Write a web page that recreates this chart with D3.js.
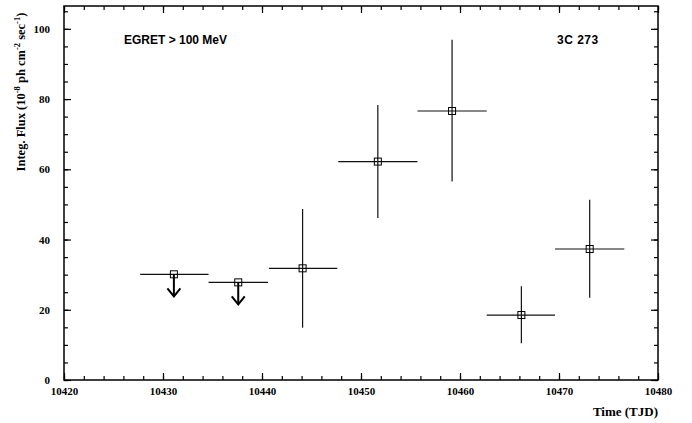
<!DOCTYPE html>
<html>
<head>
<meta charset="utf-8">
<script src="https://cdn.jsdelivr.net/npm/d3@7"></script>
<style>
  body { margin: 0; background: #fff; }
  svg { display: block; }
  .tick text { font-family: 'Liberation Serif', 'Times New Roman', serif; font-weight: bold; font-size: 11px; fill: #000; }
  .tick line { stroke: #000; }
</style>
</head>
<body>
<div id="chart"></div>
<script>
// light curve of 3C 273, EGRET > 100 MeV
const times = [10431.1, 10437.6, 10444.1, 10451.7, 10459.2, 10466.2, 10473.1];
const timeLo = [10427.7, 10434.6, 10440.7, 10447.7, 10455.7, 10462.7, 10469.6];
const timeHi = [10434.6, 10440.6, 10447.6, 10455.7, 10462.7, 10469.6, 10476.6];
const flux = [30.1, 27.8, 31.8, 62.2, 76.6, 18.5, 37.3];
const fluxLo = [null, null, 14.9, 46.1, 56.5, 10.5, 23.4];
const fluxHi = [null, null, 48.7, 78.3, 96.9, 26.7, 51.3];
const upperLimit = [true, true, false, false, false, false, false];

const xMajorTicks = [10420, 10430, 10440, 10450, 10460, 10470, 10480];
const xMinorTicks = d3.range(10420, 10481, 2);
const yMajorTicks = [0, 20, 40, 60, 80, 100];
const yMinorTicks = d3.range(0, 106, 5);

const width = 692;
const height = 423;
const margin = { top: 6, right: 34, bottom: 43, left: 64 };
const innerW = width - margin.left - margin.right;
const innerH = height - margin.top - margin.bottom;

const svg = d3
  .select('#chart')
  .append('svg')
  .attr('width', width)
  .attr('height', height);

const g = svg
  .append('g')
  .attr('transform', `translate(${margin.left},${margin.top})`);

const xScale = d3.scaleLinear().domain([10420, 10480]).range([0, innerW]);
const yScale = d3.scaleLinear().domain([0, 106.5]).range([innerH, 0]);

// axes: ticks point inward on all four sides
function addAxis(axis, transform, labels) {
  const a = g.append('g').attr('transform', transform).call(axis);
  a.select('.domain').remove();
  if (!labels) a.selectAll('text').remove();
  return a;
}

addAxis(d3.axisBottom(xScale).tickValues(xMinorTicks).tickSize(-4).tickFormat(''), `translate(0,${innerH})`, false);
addAxis(d3.axisBottom(xScale).tickValues(xMajorTicks).tickSize(-7).tickPadding(7).tickFormat(d3.format('d')), `translate(0,${innerH})`, true);
addAxis(d3.axisTop(xScale).tickValues(xMinorTicks).tickSize(-4).tickFormat(''), 'translate(0,0)', false);
addAxis(d3.axisTop(xScale).tickValues(xMajorTicks).tickSize(-7).tickFormat(''), 'translate(0,0)', false);

addAxis(d3.axisLeft(yScale).tickValues(yMinorTicks).tickSize(-4).tickFormat(''), 'translate(0,0)', false);
addAxis(d3.axisLeft(yScale).tickValues(yMajorTicks).tickSize(-7).tickPadding(14).tickFormat(d3.format('d')), 'translate(0,0)', true);
addAxis(d3.axisRight(yScale).tickValues(yMinorTicks).tickSize(-4).tickFormat(''), `translate(${innerW},0)`, false);
addAxis(d3.axisRight(yScale).tickValues(yMajorTicks).tickSize(-7).tickFormat(''), `translate(${innerW},0)`, false);

g.selectAll('.tick line').attr('stroke-width', 1.2);

// frame
g.append('rect')
  .attr('x', 0)
  .attr('y', 0)
  .attr('width', innerW)
  .attr('height', innerH)
  .attr('fill', 'none')
  .attr('stroke', '#000')
  .attr('stroke-width', 1.5);

const data = times.map((t, i) => ({
  t: t,
  tLo: timeLo[i],
  tHi: timeHi[i],
  f: flux[i],
  fLo: fluxLo[i],
  fHi: fluxHi[i],
  ul: upperLimit[i]
}));

// horizontal bars (time bins)
g.selectAll('.hbar')
  .data(data)
  .enter()
  .append('line')
  .attr('x1', (d) => xScale(d.tLo))
  .attr('x2', (d) => xScale(d.tHi))
  .attr('y1', (d) => yScale(d.f))
  .attr('y2', (d) => yScale(d.f))
  .attr('stroke', '#111')
  .attr('stroke-width', 1.2);

// vertical error bars
g.selectAll('.vbar')
  .data(data.filter((d) => !d.ul))
  .enter()
  .append('line')
  .attr('x1', (d) => xScale(d.t))
  .attr('x2', (d) => xScale(d.t))
  .attr('y1', (d) => yScale(d.fLo))
  .attr('y2', (d) => yScale(d.fHi))
  .attr('stroke', '#111')
  .attr('stroke-width', 1.2);

// upper limit arrows
const arrowLen = 22;
const ul = g.selectAll('.ul').data(data.filter((d) => d.ul)).enter().append('g');
ul.append('line')
  .attr('x1', (d) => xScale(d.t))
  .attr('x2', (d) => xScale(d.t))
  .attr('y1', (d) => yScale(d.f))
  .attr('y2', (d) => yScale(d.f) + arrowLen)
  .attr('stroke', '#000')
  .attr('stroke-width', 2);
ul.append('path')
  .attr('d', (d) => {
    const x = xScale(d.t);
    const y = yScale(d.f) + arrowLen;
    return `M${x - 6.5},${y - 8}L${x},${y}L${x + 6.5},${y - 8}`;
  })
  .attr('fill', 'none')
  .attr('stroke', '#000')
  .attr('stroke-width', 2);

// square markers
g.selectAll('.pt')
  .data(data)
  .enter()
  .append('rect')
  .attr('x', (d) => xScale(d.t) - 3.5)
  .attr('y', (d) => yScale(d.f) - 3.5)
  .attr('width', 7)
  .attr('height', 7)
  .attr('fill', 'none')
  .attr('stroke', '#000')
  .attr('stroke-width', 1);

// labels inside the plot
svg.append('text')
  .attr('x', 124)
  .attr('y', 44)
  .attr('font-family', 'Liberation Sans, Arial, sans-serif')
  .attr('font-weight', 'bold')
  .attr('font-size', 12)
  .text('EGRET > 100 MeV');

svg.append('text')
  .attr('x', 557)
  .attr('y', 44)
  .attr('font-family', 'Liberation Sans, Arial, sans-serif')
  .attr('font-weight', 'bold')
  .attr('font-size', 12)
  .attr('letter-spacing', 0.5)
  .text('3C 273');

// axis titles
svg.append('text')
  .attr('x', 658)
  .attr('y', 416)
  .attr('text-anchor', 'end')
  .attr('font-family', 'Liberation Serif, Times New Roman, serif')
  .attr('font-weight', 'bold')
  .attr('font-size', 13)
  .text('Time (TJD)');

const yTitle = svg.append('text')
  .attr('transform', 'translate(25,92) rotate(-90)')
  .attr('text-anchor', 'middle')
  .attr('font-family', 'Liberation Serif, Times New Roman, serif')
  .attr('font-weight', 'bold')
  .attr('font-size', 12.5);
yTitle.append('tspan').text('Integ. Flux (10');
yTitle.append('tspan').attr('dy', -5).attr('font-size', 8.5).text('-8');
yTitle.append('tspan').attr('dy', 5).text(' ph cm');
yTitle.append('tspan').attr('dy', -5).attr('font-size', 8.5).text('-2');
yTitle.append('tspan').attr('dy', 5).text(' sec');
yTitle.append('tspan').attr('dy', -5).attr('font-size', 8.5).text('-1');
yTitle.append('tspan').attr('dy', 5).text(')');
</script>
</body>
</html>
